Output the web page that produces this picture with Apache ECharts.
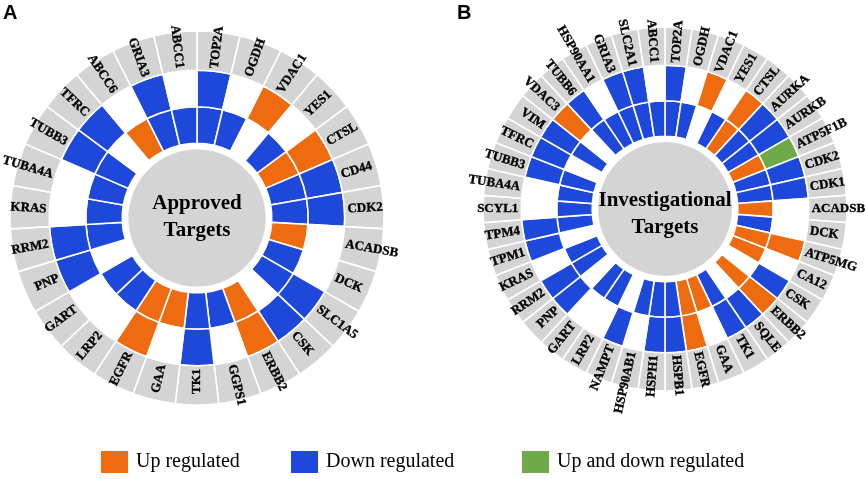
<!DOCTYPE html>
<html>
<head>
<meta charset="utf-8">
<script src="https://cdn.jsdelivr.net/npm/echarts/dist/echarts.min.js"></script>
<style>html,body{margin:0;padding:0;background:#fff}#chart{width:865px;height:479px}</style>
</head>
<body>
<div id="chart"></div>
<script>
// ---------------- data ----------------
// status codes: 'U' = up regulated, 'D' = down regulated, 'B' = up and down regulated, '' = none
const genesA = ['TOP2A','OGDH','VDAC1','YES1','CTSL','CD44','CDK2','ACADSB','DCK','SLC1A5','CSK','ERBB2','GGPS1','TK1','GAA','EGFR','LRP2','GART','PNP','RRM2','KRAS','TUBA4A','TUBB3','TFRC','ABCC6','GRIA3','ABCC1'];
const innerA = ['D','D','','D','U','D','D','U','D','D','','U','D','D','U','U','D','D','','D','D','D','D','','U','D','D'];
const outerA = ['D','','U','','U','D','D','','','D','D','U','','D','','U','','','D','D','','','D','D','','D',''];

const genesB = ['TOP2A','OGDH','VDAC1','YES1','CTSL','AURKA','AURKB','ATP5F1B','CDK2','CDK1','ACADSB','DCK','ATP5MG','CA12','CSK','ERBB2','SQLE','TK1','GAA','EGFR','HSPB1','HSPH1','HSP90AB1','NAMPT','LRP2','GART','PNP','RRM2','KRAS','TPM1','TPM4','SCYL1','TUBA4A','TUBB3','TFRC','VIM','VDAC3','TUBB6','HSP90AA1','GRIA3','SLC2A1','ABCC1'];
const innerB = ['D','D','','D','U','D','D','U','D','D','U','D','U','U','','U','','D','U','U','D','D','D','','D','D','','D','D','','D','D','D','D','','D','','D','D','D','D','D'];
const outerB = ['D','','U','','U','D','D','B','D','D','','','U','','D','U','D','D','','U','D','D','','D','','','D','D','','D','D','','','D','D','D','U','D','','D','D',''];

const centerTitles = ['Approved\nTargets', 'Investigational\nTargets'];
const panelLetters = ['A', 'B'];
const legendNames = ['Up regulated', 'Down regulated', 'Up and down regulated'];
const legendCodes = ['U', 'D', 'B'];

// ---------------- style / layout ----------------
const COLORS = { U: '#EE6B10', D: '#1D48DA', B: '#6EAB46', '': '#ffffff' };
const GRAY = '#d4d4d4';
const RING = { core: 36.5, gap: 3.5, ring: 19.5, label: 21 }; // radial thickness in % of outer radius
const LABEL_R = RING.core + RING.gap + 2 * RING.ring + 1.6;
const PANELS = [
  { center: [197, 218], radius: 187, textDy: -1 },
  { center: [665, 209], radius: 182, textDy: 5 }
];
const LEGEND_LEFT = [101, 291, 522];
const SERIF = '"Liberation Serif", "Times New Roman", serif';

const panelData = [
  { genes: genesA, inner: innerA, outer: outerA },
  { genes: genesB, inner: innerB, outer: outerB }
];

const polar = [], angleAxis = [], radiusAxis = [], series = [], graphic = [];

panelData.forEach((p, idx) => {
  polar.push({ center: PANELS[idx].center, radius: PANELS[idx].radius });
  angleAxis.push({ polarIndex: idx, type: 'category', data: p.genes, startAngle: 90, clockwise: true,
    boundaryGap: true, show: false });
  radiusAxis.push({ polarIndex: idx, type: 'value', min: 0, max: 100, show: false });

  const base = { type: 'bar', coordinateSystem: 'polar', polarIndex: idx, stack: 'panel' + idx,
    barCategoryGap: '0%', silent: true, animation: false, z: 2 };
  series.push(Object.assign({}, base, {
    data: p.genes.map(() => RING.core),
    itemStyle: { color: GRAY, borderColor: GRAY, borderWidth: 0.8 }
  }));
  series.push(Object.assign({}, base, {
    data: p.genes.map(() => RING.gap),
    itemStyle: { color: 'rgba(0,0,0,0)', borderWidth: 0 }
  }));
  [p.inner, p.outer].forEach(ring => {
    series.push(Object.assign({}, base, {
      data: ring.map(s => ({ value: RING.ring, itemStyle: { color: COLORS[s] } })),
      itemStyle: { borderColor: '#ffffff', borderWidth: 1.6 }
    }));
  });
  series.push(Object.assign({}, base, {
    data: p.genes.map(() => RING.label),
    itemStyle: { color: GRAY, borderColor: '#ffffff', borderWidth: 1.6 }
  }));

  const step = 360 / p.genes.length;
  series.push({
    type: 'scatter', coordinateSystem: 'polar', polarIndex: idx, silent: true, animation: false, z: 5,
    symbolSize: 1, itemStyle: { color: 'rgba(0,0,0,0)', opacity: 1 },
    label: { show: true, position: 'inside', formatter: '{b}', fontFamily: SERIF, fontWeight: 'bold',
      fontSize: 13, color: '#000', opacity: 1, verticalAlign: 'middle',
      textBorderColor: '#000', textBorderWidth: 0.35, textShadowBlur: 0 },
    data: p.genes.map((g, i) => {
      const theta = (i + 0.5) * step;
      const right = theta < 179.9;
      return { name: g, value: [LABEL_R, g],
        label: { rotate: right ? 90 - theta : 270 - theta, align: right ? 'left' : 'right' } };
    })
  });

  graphic.push({ type: 'text', x: PANELS[idx].center[0], y: PANELS[idx].center[1] + PANELS[idx].textDy,
    silent: true, z: 100,
    style: { text: centerTitles[idx], font: 'bold 21px ' + SERIF, fill: '#000', align: 'center',
      verticalAlign: 'middle', lineHeight: 27 } });
  graphic.push({ type: 'text', x: idx === 0 ? 3 : 457, y: 3, silent: true, z: 100,
    style: { text: panelLetters[idx], font: 'bold 20px "Liberation Sans", Arial, sans-serif', fill: '#000' } });
});

const legend = [];
legendNames.forEach((n, k) => {
  series.push({ type: 'bar', name: n, coordinateSystem: 'polar', polarIndex: 0, stack: 'panel0', data: [],
    itemStyle: { color: COLORS[legendCodes[k]], opacity: 1 } });
  legend.push({ data: [n], left: LEGEND_LEFT[k], top: 451, icon: 'rect', itemWidth: 27, itemHeight: 22,
    selectedMode: false, padding: 0, textStyle: { fontFamily: SERIF, fontSize: 20, color: '#000', padding: [0, 0, 0, 3] } });
});

const chart = echarts.init(document.getElementById('chart'), null, { renderer: 'canvas' });
chart.setOption({
  backgroundColor: '#ffffff',
  animation: false,
  polar, angleAxis, radiusAxis, series, graphic, legend
});
</script>
</body>
</html>
